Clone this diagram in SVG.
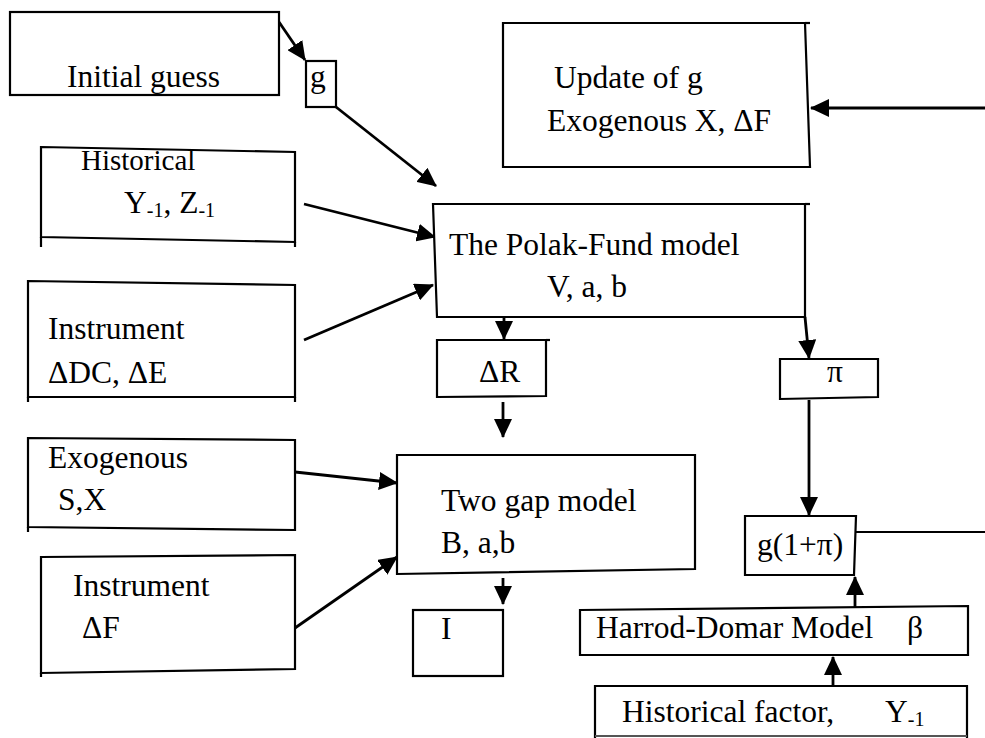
<svg xmlns="http://www.w3.org/2000/svg" width="985" height="738" viewBox="0 0 985 738">
<style>
.b{fill:#fff;stroke:#000;stroke-width:2.2}
.t{stroke:#000;stroke-width:2.2;fill:none}
text{font-family:"Liberation Serif","Times New Roman",serif;font-size:31.5px;fill:#000}
.s{font-size:20px}
.c line{stroke:#000;stroke-width:2.8}
.a{marker-end:url(#ah)}
</style>
<defs>
<marker id="ah" markerUnits="userSpaceOnUse" markerWidth="19" markerHeight="18" refX="18" refY="9" orient="auto" viewBox="0 0 19 18">
<path d="M0,0 L19,9 L0,18 z" fill="#000"/>
</marker>
</defs>
<rect width="985" height="738" fill="#fff"/>
<g class="c">
<line class="a" x1="279" y1="22" x2="305" y2="60"/>
<line class="a" x1="336" y1="107" x2="436" y2="186"/>
<line class="a" x1="304" y1="204" x2="435" y2="237"/>
<line class="a" x1="304" y1="340" x2="433" y2="285"/>
<line class="a" x1="504" y1="317" x2="504" y2="339"/>
<line class="a" x1="805" y1="317" x2="809" y2="358"/>
<line class="a" x1="503" y1="402" x2="503" y2="437"/>
<line class="a" x1="295" y1="472" x2="397" y2="483"/>
<line class="a" x1="295" y1="628" x2="397" y2="557"/>
<line class="a" x1="503" y1="578" x2="503" y2="604"/>
<line class="a" x1="809" y1="400" x2="809" y2="515"/>
<line x1="856" y1="532" x2="985" y2="532" style="stroke-width:2.2"/>
<line class="a" x1="985" y1="108" x2="811" y2="108"/>
<line class="a" x1="855" y1="610" x2="855" y2="577"/>
<line class="a" x1="833" y1="687" x2="833" y2="657"/>
</g>
<g id="initial-guess">
<rect class="b" x="10" y="12" width="269" height="83"/>
<text x="67" y="87">Initial guess</text>
</g>
<g id="g-box">
<rect class="b" x="306" y="61" width="30" height="46"/>
<text x="310" y="87">g</text>
</g>
<g id="update-g">
<polygon class="b" points="503,23 805,23 810,167 503,167"/>
<line class="t" x1="805" y1="23" x2="810" y2="23"/>
<text x="554" y="88">Update of g</text>
<text x="547" y="131">Exogenous X, ΔF</text>
</g>
<g id="historical">
<polygon class="b" points="41,147 295,152 295,242 41,237"/>
<path class="t" d="M41,237 V247 M295,242 V247"/>
<text x="81" y="170" style="font-size:29px">Historical</text>
<text x="124" y="213">Y<tspan class="s" dy="4">-1</tspan><tspan dy="-4">, Z</tspan><tspan class="s" dy="4">-1</tspan></text>
</g>
<g id="polak-fund">
<polygon class="b" points="433,204 805,204 805,317 437,317"/>
<line class="t" x1="805" y1="204" x2="810" y2="204"/>
<text x="449" y="255">The Polak-Fund model</text>
<text x="547" y="297">V, a, b</text>
</g>
<g id="instrument-1">
<polygon class="b" points="28,281 295,285 295,397 28,397"/>
<path class="t" d="M28,397 V402 M295,397 V402"/>
<text x="48" y="339">Instrument</text>
<text x="48" y="383">ΔDC, ΔE</text>
</g>
<g id="delta-r">
<polygon class="b" points="437,340 546,340 546,396 437,397"/>
<line class="t" x1="546" y1="340" x2="550" y2="340"/>
<text x="479" y="382">ΔR</text>
</g>
<g id="pi">
<polygon class="b" points="780,359 878,359 878,397 780,399"/>
<text x="835" y="382" text-anchor="middle">π</text>
</g>
<g id="exogenous">
<polygon class="b" points="28,438 295,440 295,530 28,527"/>
<path class="t" d="M28,527 V532"/>
<text x="48" y="468">Exogenous</text>
<text x="58" y="510">S,X</text>
</g>
<g id="two-gap">
<polygon class="b" points="397,455 695,455 695,569 397,574"/>
<text x="441" y="511">Two gap model</text>
<text x="441" y="553">B, a,b</text>
</g>
<g id="instrument-2">
<polygon class="b" points="41,557 295,555 295,669 41,673"/>
<path class="t" d="M41,673 V677"/>
<text x="73" y="596">Instrument</text>
<text x="82" y="638">ΔF</text>
</g>
<g id="g1pi">
<polygon class="b" points="745,516 856,516 854,575 745,575"/>
<text x="757" y="555">g(1+π)</text>
</g>
<g id="i-box">
<rect class="b" x="413" y="610" width="90" height="66"/>
<text x="441" y="639">I</text>
</g>
<g id="harrod-domar">
<polygon class="b" points="580,610 968,606 968,655 580,655"/>
<text x="596" y="638">Harrod-Domar Model</text>
<text x="907" y="638">β</text>
</g>
<g id="historical-factor">
<path class="b" d="M595,738 V686 H967 V738"/>
<line class="t" x1="595" y1="736" x2="967" y2="736" style="stroke:#555"/>
<text x="622" y="722">Historical factor,</text>
<text x="885" y="722">Y<tspan class="s" dy="4">-1</tspan></text>
</g>
</svg>
